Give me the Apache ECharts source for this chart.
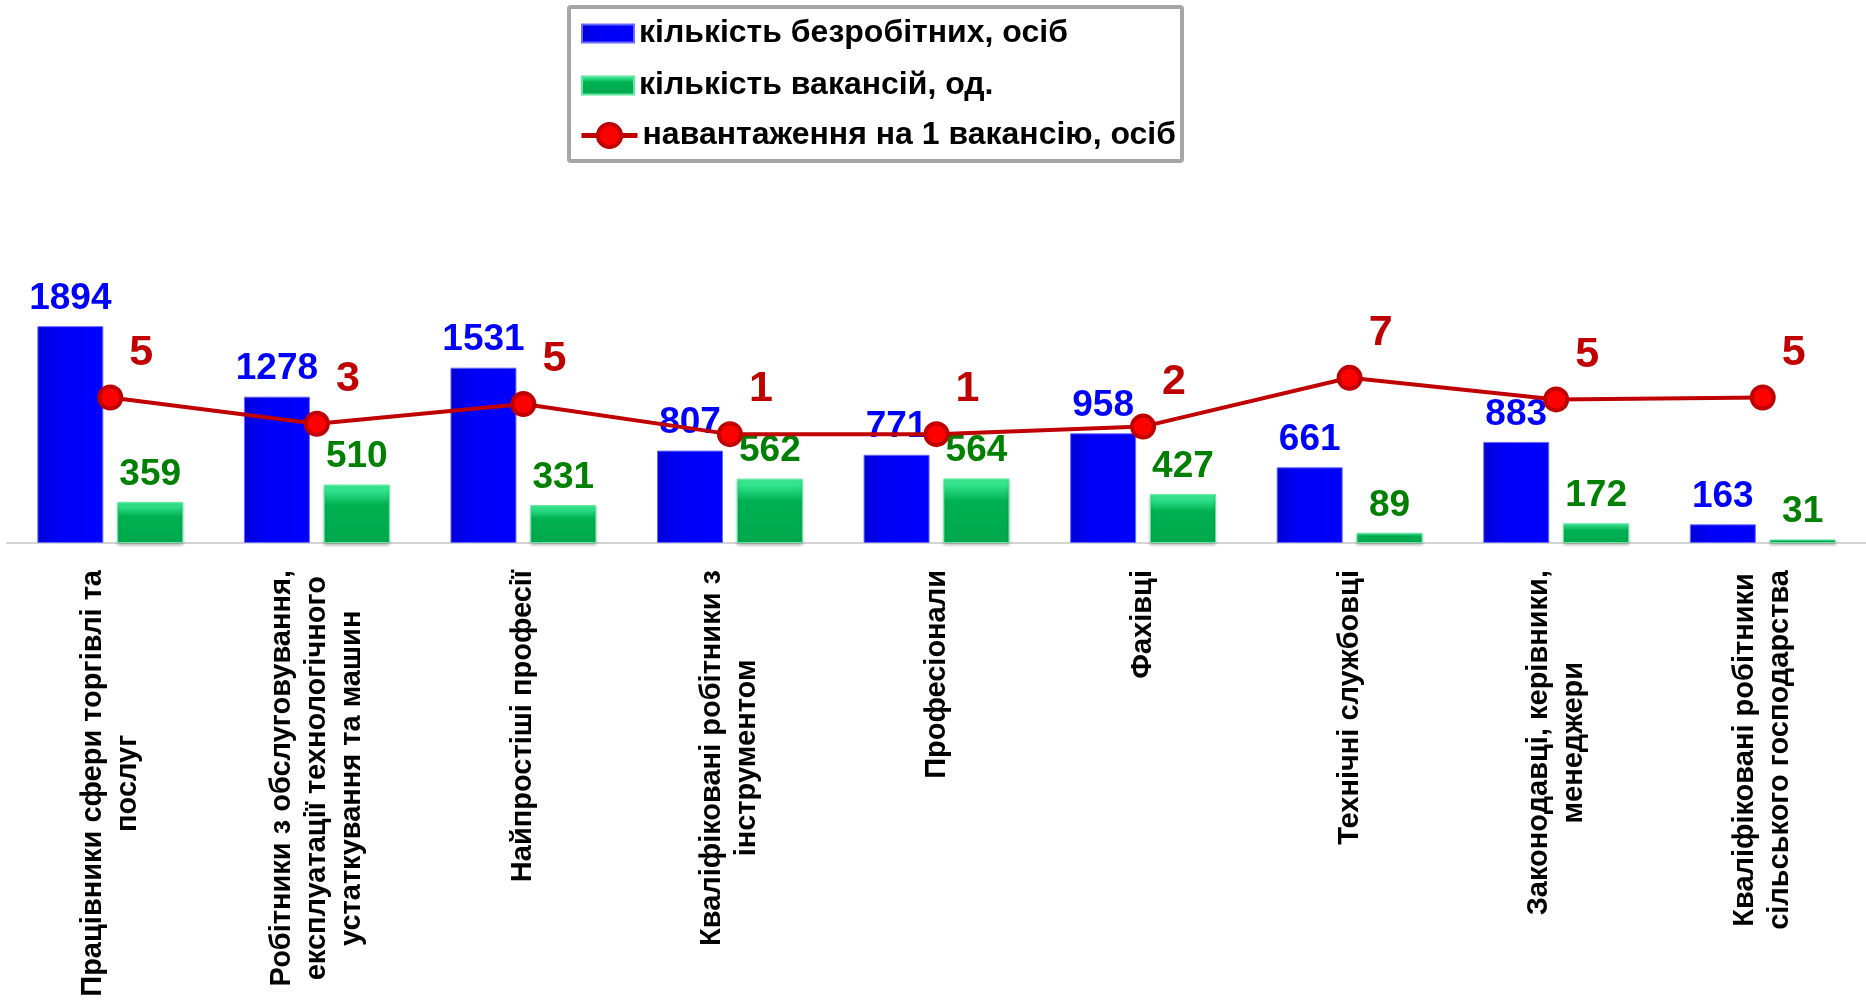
<!DOCTYPE html>
<html>
<head>
<meta charset="utf-8">
<script src="https://cdn.jsdelivr.net/npm/echarts@6/dist/echarts.min.js"></script>
<style>
html,body{margin:0;padding:0;background:#fff;}
#chart{width:1866px;height:1001px;}
</style>
</head>
<body>
<div id="chart"></div>
<script>
const categories = [
  "Працівники сфери торгівлі та\nпослуг",
  "Робітники з обслуговування,\nексплуатації технологічного\nустаткування та машин",
  "Найпростіші професії",
  "Кваліфіковані робітники з\nінструментом",
  "Професіонали",
  "Фахівці",
  "Технічні службовці",
  "Законодавці, керівники,\nменеджери",
  "Кваліфіковані робітники\nсільського господарства"
];
const unemployed = [1894, 1278, 1531, 807, 771, 958, 661, 883, 163];
const vacancies = [359, 510, 331, 562, 564, 427, 89, 172, 31];
const loadPerVacancy = [5.3, 2.5, 4.6, 1.4, 1.4, 2.2, 7.4, 5.1, 5.3];
const seriesNames = [
  "кількість безробітних, осіб",
  "кількість вакансій, од.",
  "навантаження на 1 вакансію, осіб"
];

const FONT = "'Liberation Sans', Arial, sans-serif";
const chart = echarts.init(document.getElementById('chart'), null, {renderer: 'canvas'});

const legendText = {
  fontFamily: FONT,
  fontWeight: 'bold',
  fontSize: 32,
  lineHeight: 33,
  color: '#000000'
};

const option = {
  backgroundColor: '#ffffff',
  animation: false,
  graphic: [{
    type: 'rect',
    left: 567,
    top: 5,
    shape: {width: 613, height: 154, r: 2},
    style: {fill: '#ffffff', stroke: '#a6a6a6', lineWidth: 4},
    z: -1
  }],
  legend: [
    {
      orient: 'vertical',
      left: 581,
      top: 17,
      padding: 0,
      itemWidth: 52,
      itemHeight: 18,
      itemGap: 19,
      selectedMode: false,
      textStyle: legendText,
      data: [
        {name: seriesNames[0], icon: 'rect'},
        {name: seriesNames[1], icon: 'rect'}
      ]
    },
    {
      orient: 'vertical',
      left: 579,
      top: 119,
      padding: 0,
      itemWidth: 56,
      itemHeight: 29,
      selectedMode: false,
      textStyle: legendText,
      data: [{
        name: seriesNames[2],
        lineStyle: {color: '#c00000', width: 5},
        itemStyle: {color: '#ff0000', borderColor: '#c00000', borderWidth: 4}
      }]
    }
  ],
  grid: {left: 7, right: -9, top: 314, bottom: 458, containLabel: false},
  xAxis: {
    type: 'category',
    data: categories,
    axisLine: {show: true, lineStyle: {color: '#d4d4d4', width: 2}},
    axisTick: {show: false},
    axisLabel: {
      interval: 0,
      rotate: 90,
      margin: 27,
      formatter: function (v) {
        return v.split('\n').map(function (l) { return '{c|' + l + '}'; }).join('\n');
      },
      rich: {
        c: {
          align: 'center',
          fontFamily: FONT,
          fontWeight: 'bold',
          fontSize: 29,
          lineHeight: 35,
          color: '#000000'
        }
      }
    }
  },
  yAxis: [
    {type: 'value', min: 0, max: 2000, show: false, splitLine: {show: false}},
    {type: 'value', min: -10.2, max: 14.2, show: false, splitLine: {show: false}}
  ],
  series: [
    {
      name: seriesNames[0],
      type: 'bar',
      data: unemployed,
      barWidth: 66,
      barGap: '21%',
      itemStyle: {
        color: {
          type: 'linear', x: 0, y: 0, x2: 1, y2: 0,
          colorStops: [
            {offset: 0, color: '#0000d6'},
            {offset: 0.3, color: '#0000f5'},
            {offset: 1, color: '#0000ff'}
          ]
        },
        borderColor: '#6a6aff',
        borderWidth: 1
      },
      label: {
        show: true,
        position: 'top',
        distance: 9,
        fontFamily: FONT,
        fontWeight: 'bold',
        fontSize: 37,
        color: '#0000ff'
      }
    },
    {
      name: seriesNames[1],
      type: 'bar',
      data: vacancies,
      barWidth: 66,
      itemStyle: {
        color: {
          type: 'linear', x: 0, y: 0, x2: 0, y2: 1,
          colorStops: [
            {offset: 0, color: '#45fa9a'},
            {offset: 0.12, color: '#2ee088'},
            {offset: 0.35, color: '#00b152'},
            {offset: 1, color: '#00a84c'}
          ]
        },
        borderColor: '#5fe7a0',
        borderWidth: 1,
        shadowColor: 'rgba(0,0,0,0.25)',
        shadowBlur: 3,
        shadowOffsetY: 2
      },
      label: {
        show: true,
        position: 'top',
        distance: 9,
        fontFamily: FONT,
        fontWeight: 'bold',
        fontSize: 37,
        color: '#008000'
      }
    },
    {
      name: seriesNames[2],
      type: 'line',
      yAxisIndex: 1,
      data: loadPerVacancy,
      symbol: 'circle',
      symbolSize: 22,
      lineStyle: {color: '#c00000', width: 4},
      itemStyle: {color: '#ff0000', borderColor: '#c00000', borderWidth: 4},
      label: {
        show: true,
        position: 'top',
        distance: 0,
        offset: [31, -10],
        fontFamily: FONT,
        fontWeight: 'bold',
        fontSize: 43,
        color: '#c00000',
        formatter: function (p) { return String(Math.round(p.value)); }
      },
      z: 5
    }
  ]
};
chart.setOption(option);
</script>
</body>
</html>
